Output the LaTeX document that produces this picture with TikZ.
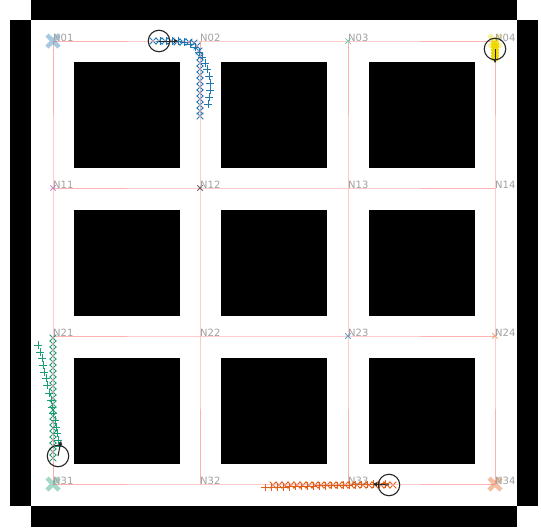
\documentclass[tikz,border=0pt]{standalone}
\usepackage{fontspec}
\setmainfont{DejaVu Sans}
\usetikzlibrary{arrows.meta}
\definecolor{trajblue}{HTML}{1F77B4}
\definecolor{trajgreen}{HTML}{1B9E77}
\definecolor{trajorange}{HTML}{E0601A}
\definecolor{trajyellow}{HTML}{EED800}
\definecolor{edgepink}{HTML}{FFB0B0}
\definecolor{dotpink}{HTML}{F6A5A5}
\definecolor{labelgray}{HTML}{A0A0A0}
\tikzset{
  wallblock/.style={fill=black,draw=none},
  roadline/.style={draw=edgepink,line width=1pt},
  nodelabel/.style={anchor=base west,inner sep=0pt,text=labelgray,
    font=\fontsize{10}{12}\selectfont},
  goalmark/.style={line width=4.5pt,opacity=0.4},
  markline/.style={line width=0.9pt},
  robotring/.style={circle,draw=black!85,line width=1.1pt,minimum size=21.5pt,inner sep=0pt},
  headingarrow/.style={-{Triangle[length=4pt,width=4pt]},draw=black!85,line width=1pt},
  crossmark/.pic={\draw[markline] (-3.3,-3.3) -- (3.3,3.3) (-3.3,3.3) -- (3.3,-3.3);},
  plusmark/.pic={\draw[markline] (-3.8,0) -- (3.8,0) (0,-3.8) -- (0,3.8);}
}
\begin{document}
\begin{tikzpicture}[x=1pt,y=-1pt]
  \useasboundingbox (0,0) rectangle (541,530);
  \fill[wallblock] (31,0) rectangle (517,20);
  \fill[wallblock] (10,20) rectangle (31,506);
  \fill[wallblock] (517,20) rectangle (538,506);
  \fill[wallblock] (31,506) rectangle (517,527);
  \foreach \bx in {74,221,369}
    \foreach \by in {62,210,358}
      \fill[wallblock] (\bx,\by) rectangle ++(106,106);

  \foreach \r/\y in {0/41,1/188,2/336,3/484}
    \foreach \c/\x in {1/53,2/200,3/348,4/495}
      \coordinate (p\r\c) at (\x,\y);
  \foreach \r in {0,...,3}
    \draw[roadline] (p\r1) -- (p\r2) -- (p\r3) -- (p\r4);
  \foreach \c in {1,...,4}
    \draw[roadline] (p0\c) -- (p1\c) -- (p2\c) -- (p3\c);

  \foreach \pt/\col in {p01/trajblue,p04/trajyellow,p31/trajgreen,p34/trajorange}
    \draw[goalmark,draw=\col,shift={(\pt)}] (-6,-6) -- (6,6) (-6,6) -- (6,-6);
  \foreach \pt/\col in {p03/trajgreen!55,p11/violet!45,p12/black!60,
      p23/trajblue!70,p24/trajorange!55}
    \pic[\col,scale=0.8] at (\pt) {crossmark};

  \foreach \r in {0,...,3}
    \foreach \c in {1,...,4}
      \node[nodelabel] (N\r\c) at (p\r\c) {N\r\c};

  % blue
  \foreach \px/\py in {153/41,159/41,165/41,171/41,177/42,183/42,189/42,194/43,
      197/46,199/51,200/57,200/63,200/69,200/75,200/81,200/87,200/93,200/99,
      200/105,200/111,200/116}
    {\pic[trajblue] at (\px,\py) {crossmark};
     \fill[dotpink] (\px,\py) circle (1.2);}
  \foreach \px/\py in {160/41,166/41,172/41,178/41,184/42,190/44,195/47,199/52,
      202/57,205/63,207/69,209/76,210/83,210/90,209/97,208/104}
    \pic[trajblue] at (\px,\py) {plusmark};

  % yellow
  \foreach \py in {43,44.5,...,59}
    {\pic[trajyellow] at (495,\py) {crossmark};
     \pic[trajyellow] at (495,\py) {plusmark};}

  % green
  \foreach \py in {338,344,...,458}
    {\pic[trajgreen] at (53,\py) {crossmark};
     \fill[dotpink] (53,\py) circle (1.2);}
  \foreach \px/\py in {38/345,40/352,42/358,43/365,44/372,46/378,47/385,49/393,
      51/400,52/407,53/413,55/420,56/427,57/433,58/440,59/446}
    \pic[trajgreen] at (\px,\py) {plusmark};

  % orange
  \foreach \px in {273,279,...,393}
    {\pic[trajorange] at (\px,485) {crossmark};
     \fill[dotpink] (\px,485) circle (1.2);}
  \foreach \px [evaluate=\px as \py using 487.5-(\px-265)*0.03] in {265,271,...,385}
    \pic[trajorange] at (\px,\py) {plusmark};

  \node[robotring] (robotA) at (159,41) {};
  \node[robotring] (robotB) at (495,49) {};
  \node[robotring] (robotC) at (58,456) {};
  \node[robotring] (robotD) at (389,485) {};
  \coordinate (headA) at (178,41);
  \coordinate (headB) at (495,63);
  \coordinate (headC) at (61,441);
  \coordinate (headD) at (373,484);
  \draw[headingarrow] (robotA.center) -- (headA);
  \draw[headingarrow] (robotB.center) -- (headB);
  \draw[headingarrow] (robotC.center) -- (headC);
  \draw[headingarrow] (robotD.center) -- (headD);
\end{tikzpicture}
\end{document}
